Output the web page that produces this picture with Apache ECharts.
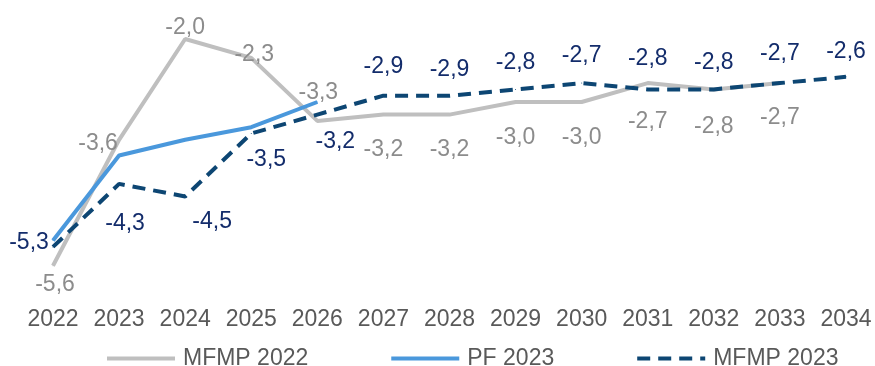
<!DOCTYPE html>
<html>
<head>
<meta charset="utf-8">
<script src="https://cdn.jsdelivr.net/npm/echarts@6/dist/echarts.min.js"></script>
<style>
  html, body { margin: 0; padding: 0; background: #ffffff; }
  #chart { width: 875px; height: 366px; }
</style>
</head>
<body>
<div id="chart"></div>
<script>
// Categories and series values
const years = ['2022', '2023', '2024', '2025', '2026', '2027', '2028', '2029', '2030', '2031', '2032', '2033', '2034'];
const mfmp2022 = [-5.6, -3.6, -2.0, -2.3, -3.3, -3.2, -3.2, -3.0, -3.0, -2.7, -2.8, -2.7, null];
const pf2023 = [-5.2, -3.85, -3.6, -3.4, -3.0, null, null, null, null, null, null, null, null];
const mfmp2023 = [-5.3, -4.3, -4.5, -3.5, -3.2, -2.9, -2.9, -2.8, -2.7, -2.8, -2.8, -2.7, -2.6];

// Label placement: offset of each value label's centre from its point, in px
const grayLabelOffsets = [[2, 19], [-21, 4], [0, -11.5], [3, -3.5], [1, -28], [0, 35.5], [0, 35.5], [0, 36], [0, 36], [0, 39], [0, 37], [0, 34.6], [0, 0]];
const navyLabelOffsets = [[-24, -4], [6, 40], [27, 25.5], [15, 26.5], [18, 27.5], [0, -29], [0, -26], [0, -26.4], [0, -27], [0, -31], [0, -27], [0, -29], [0, -25]];

const FONT = 'Liberation Sans, Arial, sans-serif';
const GRAY_LINE = '#BFBFBF';
const GRAY_TEXT = '#8C8C8C';
const BLUE_LINE = '#4A98DC';
const NAVY_LINE = '#0D4673';
const NAVY_TEXT = '#132C6B';

const fmt = p => p.value.toFixed(1).replace('.', ',');

function withOffsets(values, offsets) {
  return values.map((v, i) => v == null ? null : { value: v, label: { offset: offsets[i] } });
}

const chart = echarts.init(document.getElementById('chart'), null, { renderer: 'canvas' });

chart.setOption({
  animation: false,
  backgroundColor: '#ffffff',
  textStyle: { fontFamily: FONT },
  grid: { left: 53, right: 29, top: 39, bottom: 75, containLabel: false },
  xAxis: {
    type: 'category',
    data: years,
    boundaryGap: false,
    axisLine: { show: false },
    axisTick: { show: false },
    splitLine: { show: false },
    axisLabel: { interval: 0, margin: 17, fontSize: 23, color: '#595959', fontFamily: FONT }
  },
  yAxis: {
    type: 'value',
    min: -6,
    max: -2,
    show: false
  },
  legend: {
    left: 100,
    top: 342,
    itemWidth: 68,
    itemHeight: 4,
    itemGap: 81,
    itemStyle: { opacity: 0 },
    lineStyle: { width: 4 },
    textStyle: { fontSize: 23, color: '#595959', fontFamily: FONT, padding: [0, 0, 0, 3] },
    data: ['MFMP 2022', 'PF 2023', 'MFMP 2023']
  },
  series: [
    {
      name: 'MFMP 2022',
      type: 'line',
      data: withOffsets(mfmp2022, grayLabelOffsets),
      symbol: 'circle',
      symbolSize: 1,
      itemStyle: { color: GRAY_LINE },
      lineStyle: { color: GRAY_LINE, width: 4 },
      label: { show: true, position: 'inside', formatter: fmt, fontSize: 23, color: GRAY_TEXT, fontFamily: FONT },
      z: 2
    },
    {
      name: 'PF 2023',
      type: 'line',
      data: pf2023,
      symbol: 'circle',
      symbolSize: 1,
      itemStyle: { color: BLUE_LINE },
      lineStyle: { color: BLUE_LINE, width: 4 },
      label: { show: false },
      z: 3
    },
    {
      name: 'MFMP 2023',
      type: 'line',
      data: withOffsets(mfmp2023, navyLabelOffsets),
      symbol: 'circle',
      symbolSize: 1,
      itemStyle: { color: NAVY_LINE },
      lineStyle: { color: NAVY_LINE, width: 4, type: [13, 8] },
      label: { show: true, position: 'inside', formatter: fmt, fontSize: 23, color: NAVY_TEXT, fontFamily: FONT },
      z: 4
    }
  ]
});
</script>
</body>
</html>
